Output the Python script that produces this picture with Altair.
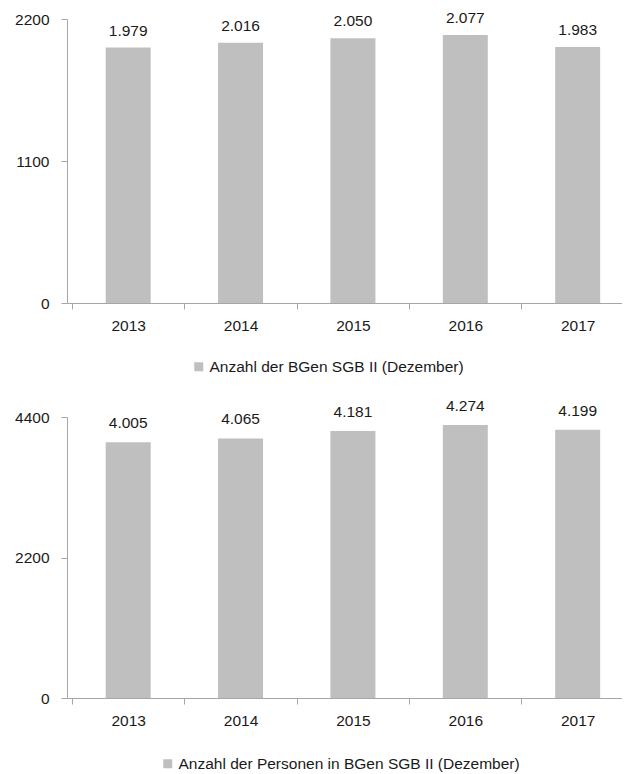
import altair as alt
import pandas as pd

years = [2013, 2014, 2015, 2016, 2017]
bgen = [1979, 2016, 2050, 2077, 1983]
personen = [4005, 4065, 4181, 4274, 4199]
top_ticks = [0, 1100, 2200]
bottom_ticks = [0, 2200, 4400]
top_series = "Anzahl der BGen SGB II (Dezember)"
bottom_series = "Anzahl der Personen in BGen SGB II (Dezember)"
x_ticks = [2012.5, 2013, 2013.5, 2014, 2014.5, 2015, 2015.5, 2016, 2016.5, 2017]

FONT = "Liberation Sans, Arial, sans-serif"
FS = 15.5
BAR = "#BFBFBF"
AXIS = "#A6A6A6"
TEXT = "#1A1A1A"


def de(v):
    return f"{v:,}".replace(",", ".")


def panel(values, ticks, series, height, legend_x, legend_y, label_dy):
    df = pd.DataFrame({
        "Jahr": years,
        "Wert": values,
        "Label": [de(v) for v in values],
        "Serie": [series] * len(years),
    })
    x = alt.X(
        "Jahr:Q",
        scale=alt.Scale(domain=[2012.5, 2017.35], nice=False, zero=False),
        axis=alt.Axis(
            values=x_ticks,
            title=None,
            grid=False,
            labelExpr="datum.value % 1 === 0 ? '' + datum.value : ''",
            tickOpacity={"condition": {"test": "datum.value % 1 === 0", "value": 0}, "value": 1},
            tickSize=6,
            labelPadding=9,
            labelFlush=False,
            labelOverlap=False,
        ),
    )
    y = alt.Y(
        "Wert:Q",
        scale=alt.Scale(domain=[ticks[0], ticks[-1]], nice=False),
        axis=alt.Axis(values=ticks, format="d", title=None, grid=False, tickSize=6, labelPadding=12),
    )
    bars = alt.Chart(df).mark_bar(size=45).encode(
        x=x,
        y=y,
        color=alt.Color(
            "Serie:N",
            scale=alt.Scale(range=[BAR]),
            legend=alt.Legend(
                orient="none",
                legendX=legend_x,
                legendY=legend_y,
                title=None,
                symbolType="square",
                symbolSize=81,
                symbolStrokeWidth=0,
                labelFontSize=FS,
                labelFont=FONT,
                labelColor=TEXT,
                labelOffset=3,
                labelLimit=0,
            ),
        ),
    )
    labels = alt.Chart(df).mark_text(
        dy=label_dy, baseline="alphabetic", fontSize=FS, font=FONT, color=TEXT
    ).encode(x=x, y=y, text="Label:N")
    return alt.layer(bars, labels).properties(width=555, height=height)


top = panel(bgen, top_ticks, top_series, 284, 124, 340, -12)
bottom = panel(personen, bottom_ticks, bottom_series, 281, 93, 339, -14)

chart = (
    alt.vconcat(top, bottom, spacing=114, bounds="flush")
    .resolve_scale(color="independent")
    .resolve_legend(color="independent")
    .properties(padding={"left": 14, "top": 10, "right": 0, "bottom": 0})
    .configure_view(stroke=None)
    .configure_axis(
        labelFont=FONT,
        labelFontSize=FS,
        labelColor=TEXT,
        domainColor=AXIS,
        tickColor=AXIS,
        domainWidth=1,
        tickWidth=1,
    )
)

chart.save("out.html", embed_options={"renderer": "svg", "actions": False})
